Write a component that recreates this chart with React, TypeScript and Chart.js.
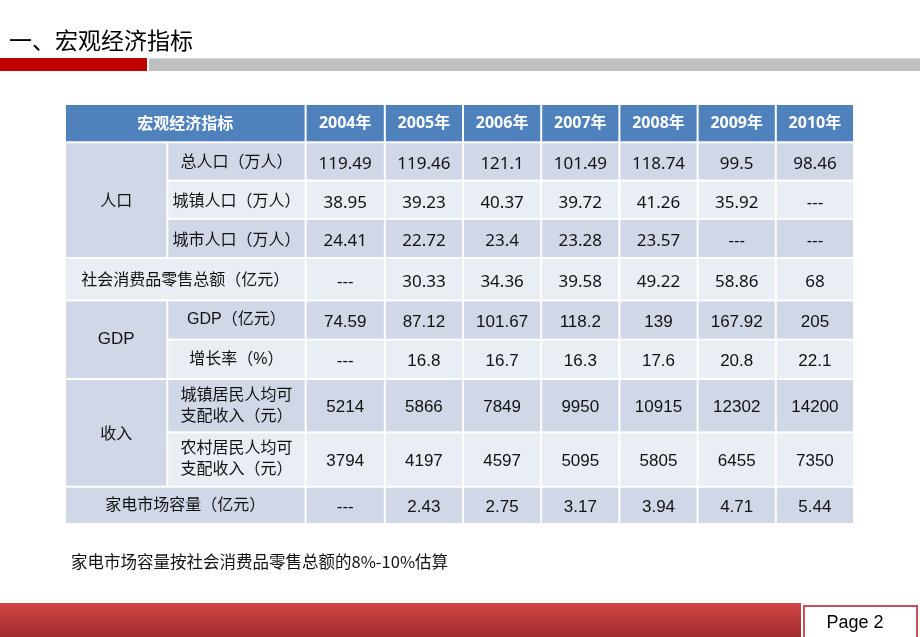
import { useEffect, useRef } from 'react';
import { Chart, registerables } from 'chart.js';

Chart.register(...registerables);

// ---------- data ----------
const pageTitle = '一、宏观经济指标';
const headerLabel = '宏观经济指标';
const years = ['2004年', '2005年', '2006年', '2007年', '2008年', '2009年', '2010年'];
const groupLabels = ['人口', 'GDP', '收入'];
const rowLabels = [
  '总人口（万人）',
  '城镇人口（万人）',
  '城市人口（万人）',
  '社会消费品零售总额（亿元）',
  'GDP（亿元）',
  '增长率（%）',
  '城镇居民人均可\n支配收入（元）',
  '农村居民人均可\n支配收入（元）',
  '家电市场容量（亿元）',
];
const totalPop = [119.49, 119.46, 121.1, 101.49, 118.74, 99.5, 98.46];
const urbanPop = [38.95, 39.23, 40.37, 39.72, 41.26, 35.92, null];
const cityPop = [24.41, 22.72, 23.4, 23.28, 23.57, null, null];
const retailSales = [null, 30.33, 34.36, 39.58, 49.22, 58.86, 68];
const gdp = [74.59, 87.12, 101.67, 118.2, 139, 167.92, 205];
const gdpGrowth = [null, 16.8, 16.7, 16.3, 17.6, 20.8, 22.1];
const urbanIncome = [5214, 5866, 7849, 9950, 10915, 12302, 14200];
const ruralIncome = [3794, 4197, 4597, 5095, 5805, 6455, 7350];
const applianceMarket = [null, 2.43, 2.75, 3.17, 3.94, 4.71, 5.44];
const footnote = '家电市场容量按社会消费品零售总额的8%-10%估算';
const pageLabel = 'Page 2';

const seriesRows = [totalPop, urbanPop, cityPop, retailSales, gdp, gdpGrowth, urbanIncome, ruralIncome, applianceMarket];

// ---------- layout (styles, not data) ----------
const colWidths = [102, 138, 79, 78, 78, 78, 78, 78, 78];
const rowHeights = [38, 38, 38, 39, 42, 39, 39, 53, 54, 37];
const cum = (a: number[]) => a.reduce((acc: number[], v) => { acc.push(acc[acc.length - 1] + v); return acc; }, [0]);
const colEdges = cum(colWidths);
const rowEdges = cum(rowHeights);

const BLUE = '#4F81BD';
const DARK = '#D0D8E8';
const LIGHT = '#E9EDF4';
const CJK = '"Noto Sans CJK SC", sans-serif';
const SEGOE = '"Noto Sans", "Noto Sans CJK SC", sans-serif';
const ARIAL = '"Liberation Sans", "Noto Sans CJK SC", sans-serif';

const fmt = (v: number | null) => (v === null ? '---' : String(v));

const tablePlugin = {
  id: 'tablePlugin',
  afterDraw(chart: any) {
    const ctx = chart.ctx as CanvasRenderingContext2D;
    const xs = chart.scales.x;
    const ys = chart.scales.y;
    const W = chart.width;
    const H = chart.height;

    const cell = (c0: number, cs: number, r0: number, rs: number, fill: string, text: string, font: string, color: string, dy = 2) => {
      const x0 = xs.getPixelForValue(colEdges[c0]);
      const x1 = xs.getPixelForValue(colEdges[c0 + cs]);
      const y0 = ys.getPixelForValue(rowEdges[r0]);
      const y1 = ys.getPixelForValue(rowEdges[r0 + rs]);
      ctx.fillStyle = fill;
      ctx.fillRect(x0 + 1, y0 + 1, x1 - x0 - 2, y1 - y0 - 2);
      ctx.fillStyle = color;
      ctx.font = font;
      ctx.textAlign = 'center';
      ctx.textBaseline = 'middle';
      const lines = text.split('\n');
      const lh = 21;
      const cx = (x0 + x1) / 2;
      const cy = (y0 + y1) / 2 + dy;
      lines.forEach((ln, i) => {
        ctx.fillText(ln, cx, cy + (i - (lines.length - 1) / 2) * lh);
      });
    };

    ctx.save();
    // title
    ctx.fillStyle = '#000';
    ctx.font = `23px ${CJK}`;
    ctx.textAlign = 'left';
    ctx.textBaseline = 'middle';
    ctx.fillText(pageTitle, 9, 40);
    ctx.fillStyle = '#C00000';
    ctx.fillRect(0, 58, 147, 13);
    ctx.fillStyle = '#BFBFBF';
    ctx.fillRect(149, 58, W - 149, 13);
    ctx.fillStyle = '#D6D6D6';
    ctx.fillRect(149, 58, W - 149, 1);

    // header
    cell(0, 2, 0, 1, BLUE, headerLabel, `bold 16px ${CJK}`, '#fff', 0);
    years.forEach((y, i) => cell(2 + i, 1, 0, 1, BLUE, y, `bold 16px ${SEGOE}`, '#fff', 0));

    // group cells
    cell(0, 1, 1, 3, DARK, groupLabels[0], `16px ${CJK}`, '#111', 0);
    cell(0, 1, 5, 2, DARK, groupLabels[1], `17px ${ARIAL}`, '#111', 0);
    cell(0, 1, 7, 2, DARK, groupLabels[2], `16px ${CJK}`, '#111', 0);

    rowLabels.forEach((lab, r) => {
      const fill = r % 2 === 0 ? DARK : LIGHT;
      const wide = r === 3 || r === 8;
      const labFont = r < 4 ? `16px ${CJK}` : `16px ${ARIAL}`;
      if (wide) cell(0, 2, r + 1, 1, fill, lab, labFont, '#111', 0);
      else cell(1, 1, r + 1, 1, fill, lab, labFont, '#111', 0);
      const numFont = r < 4 ? `17px ${SEGOE}` : `17px ${ARIAL}`;
      seriesRows[r].forEach((v, i) => cell(2 + i, 1, r + 1, 1, fill, fmt(v as number | null), numFont, '#111', r < 4 ? 3 : 2));
    });

    // footnote
    ctx.fillStyle = '#111';
    ctx.font = `16.5px ${CJK}`;
    ctx.textAlign = 'left';
    ctx.textBaseline = 'middle';
    ctx.fillText(footnote, 71, 562);

    // bottom bar
    const g = ctx.createLinearGradient(0, 603, 0, H);
    g.addColorStop(0, '#D14545');
    g.addColorStop(1, '#A02C2C');
    ctx.fillStyle = g;
    ctx.fillRect(0, 603, 801, H - 603);
    ctx.fillStyle = '#fff';
    ctx.fillRect(803, 605, 115, H - 605);
    ctx.strokeStyle = '#C8505A';
    ctx.lineWidth = 2;
    ctx.strokeRect(804, 606, 113, H - 606 + 2);
    ctx.fillStyle = '#000';
    ctx.font = `18px ${ARIAL}`;
    ctx.textAlign = 'center';
    ctx.textBaseline = 'alphabetic';
    ctx.fillText(pageLabel, 855, 628);
    ctx.restore();
  },
};

export default function App() {
  const ref = useRef<HTMLCanvasElement | null>(null);
  useEffect(() => {
    if (!ref.current) return;
    const chart = new Chart(ref.current, {
      type: 'scatter',
      data: { datasets: [{ data: [], pointRadius: 0 }] },
      options: {
        animation: false,
        responsive: false,
        events: [],
        layout: { padding: { left: 65, right: 66, top: 104, bottom: 113 } },
        plugins: { legend: { display: false }, title: { display: false }, tooltip: { enabled: false } },
        scales: {
          x: { type: 'linear', display: false, min: 0, max: colEdges[colEdges.length - 1] },
          y: { type: 'linear', display: false, min: 0, max: rowEdges[rowEdges.length - 1], reverse: true },
        },
      },
      plugins: [tablePlugin],
    });
    return () => chart.destroy();
  }, []);
  return (
    <div style={{ position: 'fixed', left: 0, top: 0, width: 920, height: 637, background: '#fff' }}>
      <canvas ref={ref} width={920} height={637} style={{ display: 'block' }} />
    </div>
  );
}
